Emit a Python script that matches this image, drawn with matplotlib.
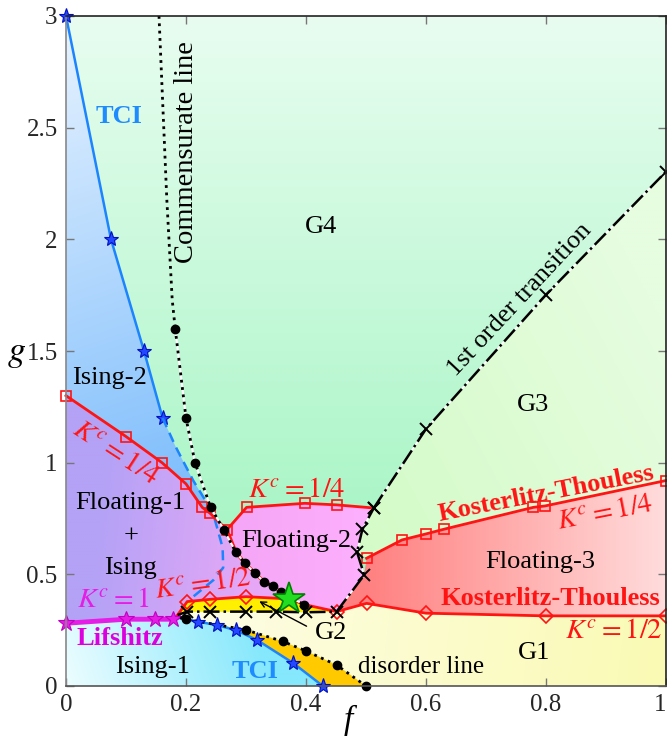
import numpy as np
import matplotlib
matplotlib.use('Agg')
import matplotlib.pyplot as plt
from matplotlib.patches import Polygon
from matplotlib.colors import to_rgb

plt.rcParams['font.family'] = ['Liberation Serif', 'DejaVu Serif']
plt.rcParams['mathtext.fontset'] = 'stix'

# ---- data (f, g) ----
tci_up_f = [0.0, 0.075, 0.13, 0.161]
tci_up_g = [3.0, 2.0, 1.5, 1.2]
tci_dash_f = [0.161, 0.183, 0.212, 0.245, 0.261, 0.262, 0.246, 0.212]
tci_dash_g = [1.2, 1.07, 0.92, 0.775, 0.62, 0.53, 0.475, 0.40]
tci_low_f = [0.19, 0.22, 0.251, 0.283, 0.319, 0.379, 0.428]
tci_low_g = [0.305, 0.288, 0.273, 0.25, 0.205, 0.102, 0.0]

lif_f = [0.0, 0.1, 0.148, 0.179, 0.188]
lif_g = [0.281, 0.299, 0.299, 0.299, 0.31]

comm_top_f = [0.155, 0.168, 0.177, 0.182]
comm_top_g = [3.0, 2.18, 1.73, 1.6]
comm_f = [0.182, 0.2, 0.215, 0.241, 0.263, 0.283, 0.298, 0.315, 0.33, 0.345, 0.358, 0.397]
comm_g = [1.6, 1.2, 1.0, 0.8, 0.70, 0.6, 0.55, 0.505, 0.467, 0.446, 0.422, 0.364]

kc14_left_f = [0.0, 0.1, 0.16, 0.2, 0.227, 0.24, 0.268]
kc14_left_g = [1.30, 1.117, 1.0, 0.905, 0.80, 0.774, 0.699]
red_comm_f = [0.268, 0.283, 0.298, 0.315, 0.33, 0.345, 0.358, 0.372]
red_comm_g = [0.699, 0.6, 0.55, 0.505, 0.467, 0.446, 0.422, 0.39]
kc14_mid_f = [0.268, 0.301, 0.398, 0.451, 0.513]
kc14_mid_g = [0.699, 0.80, 0.818, 0.811, 0.797]
kc14_right_f = [0.501, 0.56, 0.6, 0.63, 0.779, 0.798, 1.0]
kc14_right_g = [0.572, 0.654, 0.681, 0.702, 0.80, 0.806, 0.92]

kc12_f = [0.186, 0.202, 0.24, 0.30, 0.35, 0.372, 0.40, 0.451, 0.501, 0.6, 0.8, 1.0]
kc12_g = [0.318, 0.378, 0.388, 0.40, 0.393, 0.39, 0.363, 0.333, 0.37, 0.326, 0.314, 0.314]
kc12_diam = [1, 2, 3, 7, 8, 9, 10, 11]

xl_f = [0.186, 0.202, 0.24, 0.30, 0.35, 0.40, 0.451]
xl_g = [0.318, 0.333, 0.333, 0.333, 0.333, 0.33, 0.333]
xup_f = [0.451, 0.497, 0.485, 0.494, 0.513]
xup_g = [0.333, 0.497, 0.60, 0.702, 0.797]
first_f = [0.513, 0.6, 0.8, 1.0]
first_g = [0.797, 1.151, 1.752, 2.303]

dis_f = [0.19, 0.2, 0.3, 0.361, 0.4, 0.451, 0.5]
dis_g = [0.305, 0.299, 0.251, 0.2, 0.157, 0.094, 0.0]

green_star = (0.372, 0.39)

fig = plt.figure(figsize=(6.67, 7.4), dpi=100)
ax = fig.add_axes([66/667, 1-686/740, 600/667, 670/740])


def grad_region(fs, gs, c0, c1, p0, p1, z=1):
    poly = Polygon(np.column_stack([fs, gs]), closed=True, fc='none', ec='none')
    ax.add_patch(poly)
    xx, yy = np.meshgrid(np.linspace(0, 1, 300), np.linspace(0, 3, 300))
    dx, dy = p1[0]-p0[0], (p1[1]-p0[1])/3
    t = ((xx-p0[0])*dx + (yy-p0[1])/3*dy) / (dx*dx + dy*dy)
    t = np.clip(t, 0, 1)[..., None]
    img = (1-t)*np.array(to_rgb(c0)) + t*np.array(to_rgb(c1))
    im = ax.imshow(img, extent=(0, 1, 0, 3), origin='lower', aspect='auto',
                   zorder=z, interpolation='bilinear')
    im.set_clip_path(poly)


rev = lambda a: list(a)[::-1]

# G4 background
grad_region([0, 1, 1, 0], [0, 0, 3, 3], '#a6f5c4', '#e8fdf0', (0.4, 0.6), (0.4, 3.0), 0)
# Ising-2
grad_region([0] + tci_up_f + tci_dash_f[1:4] + rev(kc14_left_f[:6]),
            [3.0] + tci_up_g + tci_dash_g[1:4] + rev(kc14_left_g[:6]),
            '#e4f1ff', '#7fbefc', (0.0, 2.9), (0.2, 0.9))
# Floating-1 + Ising
grad_region(kc14_left_f + red_comm_f[1:] + rev(kc12_f[:5]) + rev(lif_f[:4]),
            kc14_left_g + red_comm_g[1:] + rev(kc12_g[:5]) + rev(lif_g[:4]),
            '#b4a2f6', '#eaa8f6', (0.05, 0.6), (0.33, 0.5))
# Floating-2
grad_region(kc14_mid_f + rev(xup_f[:-1]) + [0.40] + rev(red_comm_f[:-1]),
            kc14_mid_g + rev(xup_g[:-1]) + [0.363] + rev(red_comm_g[:-1]),
            '#f6a6f6', '#fdb0fd', (0.3, 0.6), (0.5, 0.6))
# G3
grad_region(first_f + rev(kc14_right_f) + xup_f[2:4],
            first_g + rev(kc14_right_g) + xup_g[2:4],
            '#d4fbc8', '#e6fde0', (0.5, 0.7), (1.0, 1.6))
# Floating-3
grad_region(kc14_right_f + rev(kc12_f[7:]) + [0.497],
            kc14_right_g + rev(kc12_g[7:]) + [0.497],
            '#ff8080', '#ffdcdc', (0.5, 0.5), (1.0, 0.5))
# G1
grad_region(xl_f + kc12_f[8:] + [1.0] + rev(dis_f),
            xl_g + kc12_g[8:] + [0.0] + rev(dis_g),
            '#fdfde0', '#fafab4', (0.3, 0.3), (1.0, 0.0))
# G2 strip
grad_region(kc12_f[:8] + rev(xl_f), kc12_g[:8] + rev(xl_g),
            '#fff200', '#ffea00', (0.2, 0.3), (0.45, 0.3), 1)
# gold wedge
grad_region(tci_low_f + rev(dis_f), tci_low_g + rev(dis_g),
            '#ffd000', '#ffc800', (0.2, 0.3), (0.5, 0.0), 1)
# Ising-1
grad_region([0.0] + lif_f + tci_low_f[1:], [0.0] + lif_g + tci_low_g[1:],
            '#ecfdff', '#86e8fc', (0.0, 0.0), (0.3, 0.35))

# ---- lines ----
blue = '#1c84ff'
star_kw = dict(marker='*', ms=11, mfc='#2448ff', mec='#0010c0', mew=0.8, clip_on=False)
ax.plot(tci_up_f, tci_up_g, color=blue, lw=1.8, zorder=4, **star_kw)
ax.plot(tci_dash_f, tci_dash_g, color=blue, lw=1.8, ls=(0, (4, 2.5)), zorder=4)
ax.plot(tci_low_f, tci_low_g, color=blue, lw=1.8, zorder=4)
ax.plot(tci_low_f[1:], tci_low_g[1:], ls='none', zorder=6, **star_kw)

mag = '#e41ee4'
ax.plot(lif_f, lif_g, color=mag, lw=3.5, zorder=4)
ax.plot(lif_f[:4], lif_g[:4], ls='none', marker='*', ms=12, mfc=mag, mec='#c000c0',
        mew=0.8, zorder=5, clip_on=False)

red = '#ff1414'
sq = dict(marker='s', ms=6.5, mfc='none', mec=red, mew=1.2, clip_on=False)
ax.plot(kc14_left_f, kc14_left_g, color=red, lw=2, zorder=4, **sq)
ax.plot(red_comm_f, red_comm_g, color=red, lw=2.5, zorder=4)
ax.plot(kc14_mid_f, kc14_mid_g, color=red, lw=2, zorder=4)
ax.plot(kc14_mid_f[1:4], kc14_mid_g[1:4], ls='none', zorder=5, **sq)
ax.plot(kc14_right_f, kc14_right_g, color=red, lw=2, zorder=4, **sq)
ax.plot(kc12_f, kc12_g, color=red, lw=2, zorder=4)
ax.plot([kc12_f[i] for i in kc12_diam], [kc12_g[i] for i in kc12_diam], ls='none',
        marker='D', ms=7, mfc='none', mec=red, mew=1.2, zorder=5, clip_on=False)

# commensurate line
ax.plot(comm_top_f, comm_top_g, color='k', lw=2, ls=':', zorder=5)
ax.plot(comm_f, comm_g, color='white', lw=1.5, zorder=5)
ax.plot(comm_f, comm_g, color='k', lw=2, ls=':', zorder=5)
ax.plot(comm_f, comm_g, ls='none', marker='o', ms=6, color='k', zorder=6)

# disorder line
ax.plot(dis_f, dis_g, color='k', lw=2, ls=':', zorder=5)
ax.plot(dis_f[1:], dis_g[1:], ls='none', marker='o', ms=6, color='k', zorder=6, clip_on=False)

# dash-dot transitions with crosses
x_kw = dict(marker='x', ms=8, mec='k', mew=1.4, clip_on=False)
ax.plot(xl_f, xl_g, color='k', lw=1.8, ls='-.', zorder=5)
ax.plot(xl_f[1:], xl_g[1:], ls='none', zorder=6, **x_kw)
ax.plot(xup_f, xup_g, color='white', lw=1.2, zorder=5)
ax.plot(xup_f, xup_g, color='k', lw=1.8, ls='-.', zorder=5)
ax.plot(xup_f[1:], xup_g[1:], ls='none', zorder=6, **x_kw)
ax.plot(first_f, first_g, color='white', lw=1.2, zorder=5)
ax.plot(first_f, first_g, color='k', lw=1.8, ls='-.', zorder=5)
ax.plot(first_f, first_g, ls='none', zorder=6, **x_kw)

ax.plot(*green_star, marker='*', ms=24, mfc='#22dd22', mec='#008000', mew=1.2, zorder=7)

# ---- labels ----
fs = 19
kfs = 20.5
ax.text(0.089, 2.552, 'TCI', color='#1e8cff', fontsize=19, fontweight='bold', ha='center', va='center', zorder=8)
ax.text(0.315, 0.065, 'TCI', color='#1e8cff', fontsize=19, fontweight='bold', ha='center', va='center', zorder=8)
ax.text(0.201, 2.39, 'Commensurate line', rotation=90, fontsize=20.5, ha='center', va='center', zorder=8)
ax.text(0.425, 2.054, 'G4', fontsize=fs, ha='center', va='center', zorder=8)
ax.text(0.757, 1.73, '1st order transition', rotation=47, fontsize=fs, ha='center', va='center', zorder=8)
ax.text(0.778, 1.259, 'G3', fontsize=fs, ha='center', va='center', zorder=8)
ax.text(0.072, 1.38, 'Ising-2', fontsize=fs, ha='center', va='center', zorder=8)
ax.text(0.082, 1.04, r'$K^c=1/4$', rotation=-33, color=red, fontsize=kfs, ha='center', va='center', zorder=8)
ax.text(0.107, 0.82, 'Floating-1', fontsize=fs, ha='center', va='center', zorder=8)
ax.text(0.108, 0.67, '+', fontsize=fs, ha='center', va='center', zorder=8)
ax.text(0.108, 0.53, 'Ising', fontsize=fs, ha='center', va='center', zorder=8)
ax.text(0.228, 0.455, r'$K^c=1/2$', rotation=8, color=red, fontsize=kfs, ha='center', va='center', zorder=8)
ax.text(0.384, 0.874, r'$K^c=1/4$', color=red, fontsize=kfs, ha='center', va='center', zorder=8)
ax.text(0.383, 0.65, 'Floating-2', fontsize=fs, ha='center', va='center', zorder=8)
ax.text(0.079, 0.385, r'$K^c=1$', color=mag, fontsize=kfs, ha='center', va='center', zorder=8)
ax.text(0.09, 0.213, 'Lifshitz', color='#dc00dc', fontsize=fs, fontweight='bold', ha='center', va='center', zorder=8)
ax.text(0.144, 0.083, 'Ising-1', fontsize=fs, ha='center', va='center', zorder=8)
ax.text(0.441, 0.237, 'G2', fontsize=fs, ha='center', va='center', zorder=8)
ax.annotate('', xy=(0.318, 0.385), xytext=(0.405, 0.262),
            arrowprops=dict(arrowstyle='->', color='k', lw=1), zorder=8)
ax.text(0.487, 0.083, 'disorder line', fontsize=fs-1, ha='left', va='center', zorder=8)
ax.text(0.78, 0.148, 'G1', fontsize=fs, ha='center', va='center', zorder=8)
ax.text(0.80, 0.862, 'Kosterlitz-Thouless', rotation=11, color=red, fontsize=fs, fontweight='bold',
        ha='center', va='center', zorder=8)
ax.text(0.898, 0.775, r'$K^c=1/4$', rotation=11, color=red, fontsize=kfs, ha='center', va='center', zorder=8)
ax.text(0.79, 0.557, 'Floating-3', fontsize=fs, ha='center', va='center', zorder=8)
ax.text(0.808, 0.394, 'Kosterlitz-Thouless', color=red, fontsize=fs, fontweight='bold',
        ha='center', va='center', zorder=8)
ax.text(0.913, 0.243, r'$K^c=1/2$', color=red, fontsize=kfs, ha='center', va='center', zorder=8)

# ---- axes ----
ax.set_xlim(0, 1)
ax.set_ylim(0, 3)
ax.set_xticks([0, 0.2, 0.4, 0.6, 0.8, 1])
ax.set_xticklabels(['0', '0.2', '0.4', '0.6', '0.8', '1'])
ax.get_xticklabels()[-1].set_ha('right')
ax.set_yticks([0, 0.5, 1, 1.5, 2, 2.5, 3])
ax.set_yticklabels(['0', '0.5', '1', '1.5', '2', '2.5', '3'])
ax.tick_params(direction='in', length=6, width=1, colors='#777777', labelcolor='#262626',
               labelsize=18, top=True, right=True, pad=6)
ax.spines['left'].set_color('#888888')
ax.spines['bottom'].set_color('#555555')
ax.spines['top'].set_color('#222222')
ax.spines['right'].set_color('#222222')
for s in ax.spines.values():
    s.set_linewidth(1.2)
    s.set_zorder(10)
ax.text(0.47, -0.064, 'f', style='italic', fontsize=24, ha='center', va='baseline',
        transform=ax.transAxes)
ax.set_ylabel('$g$', fontsize=26, rotation=0, va='center')
ax.yaxis.set_label_coords(-0.082, 0.497)

plt.savefig('out.png', dpi=100, facecolor='white')
